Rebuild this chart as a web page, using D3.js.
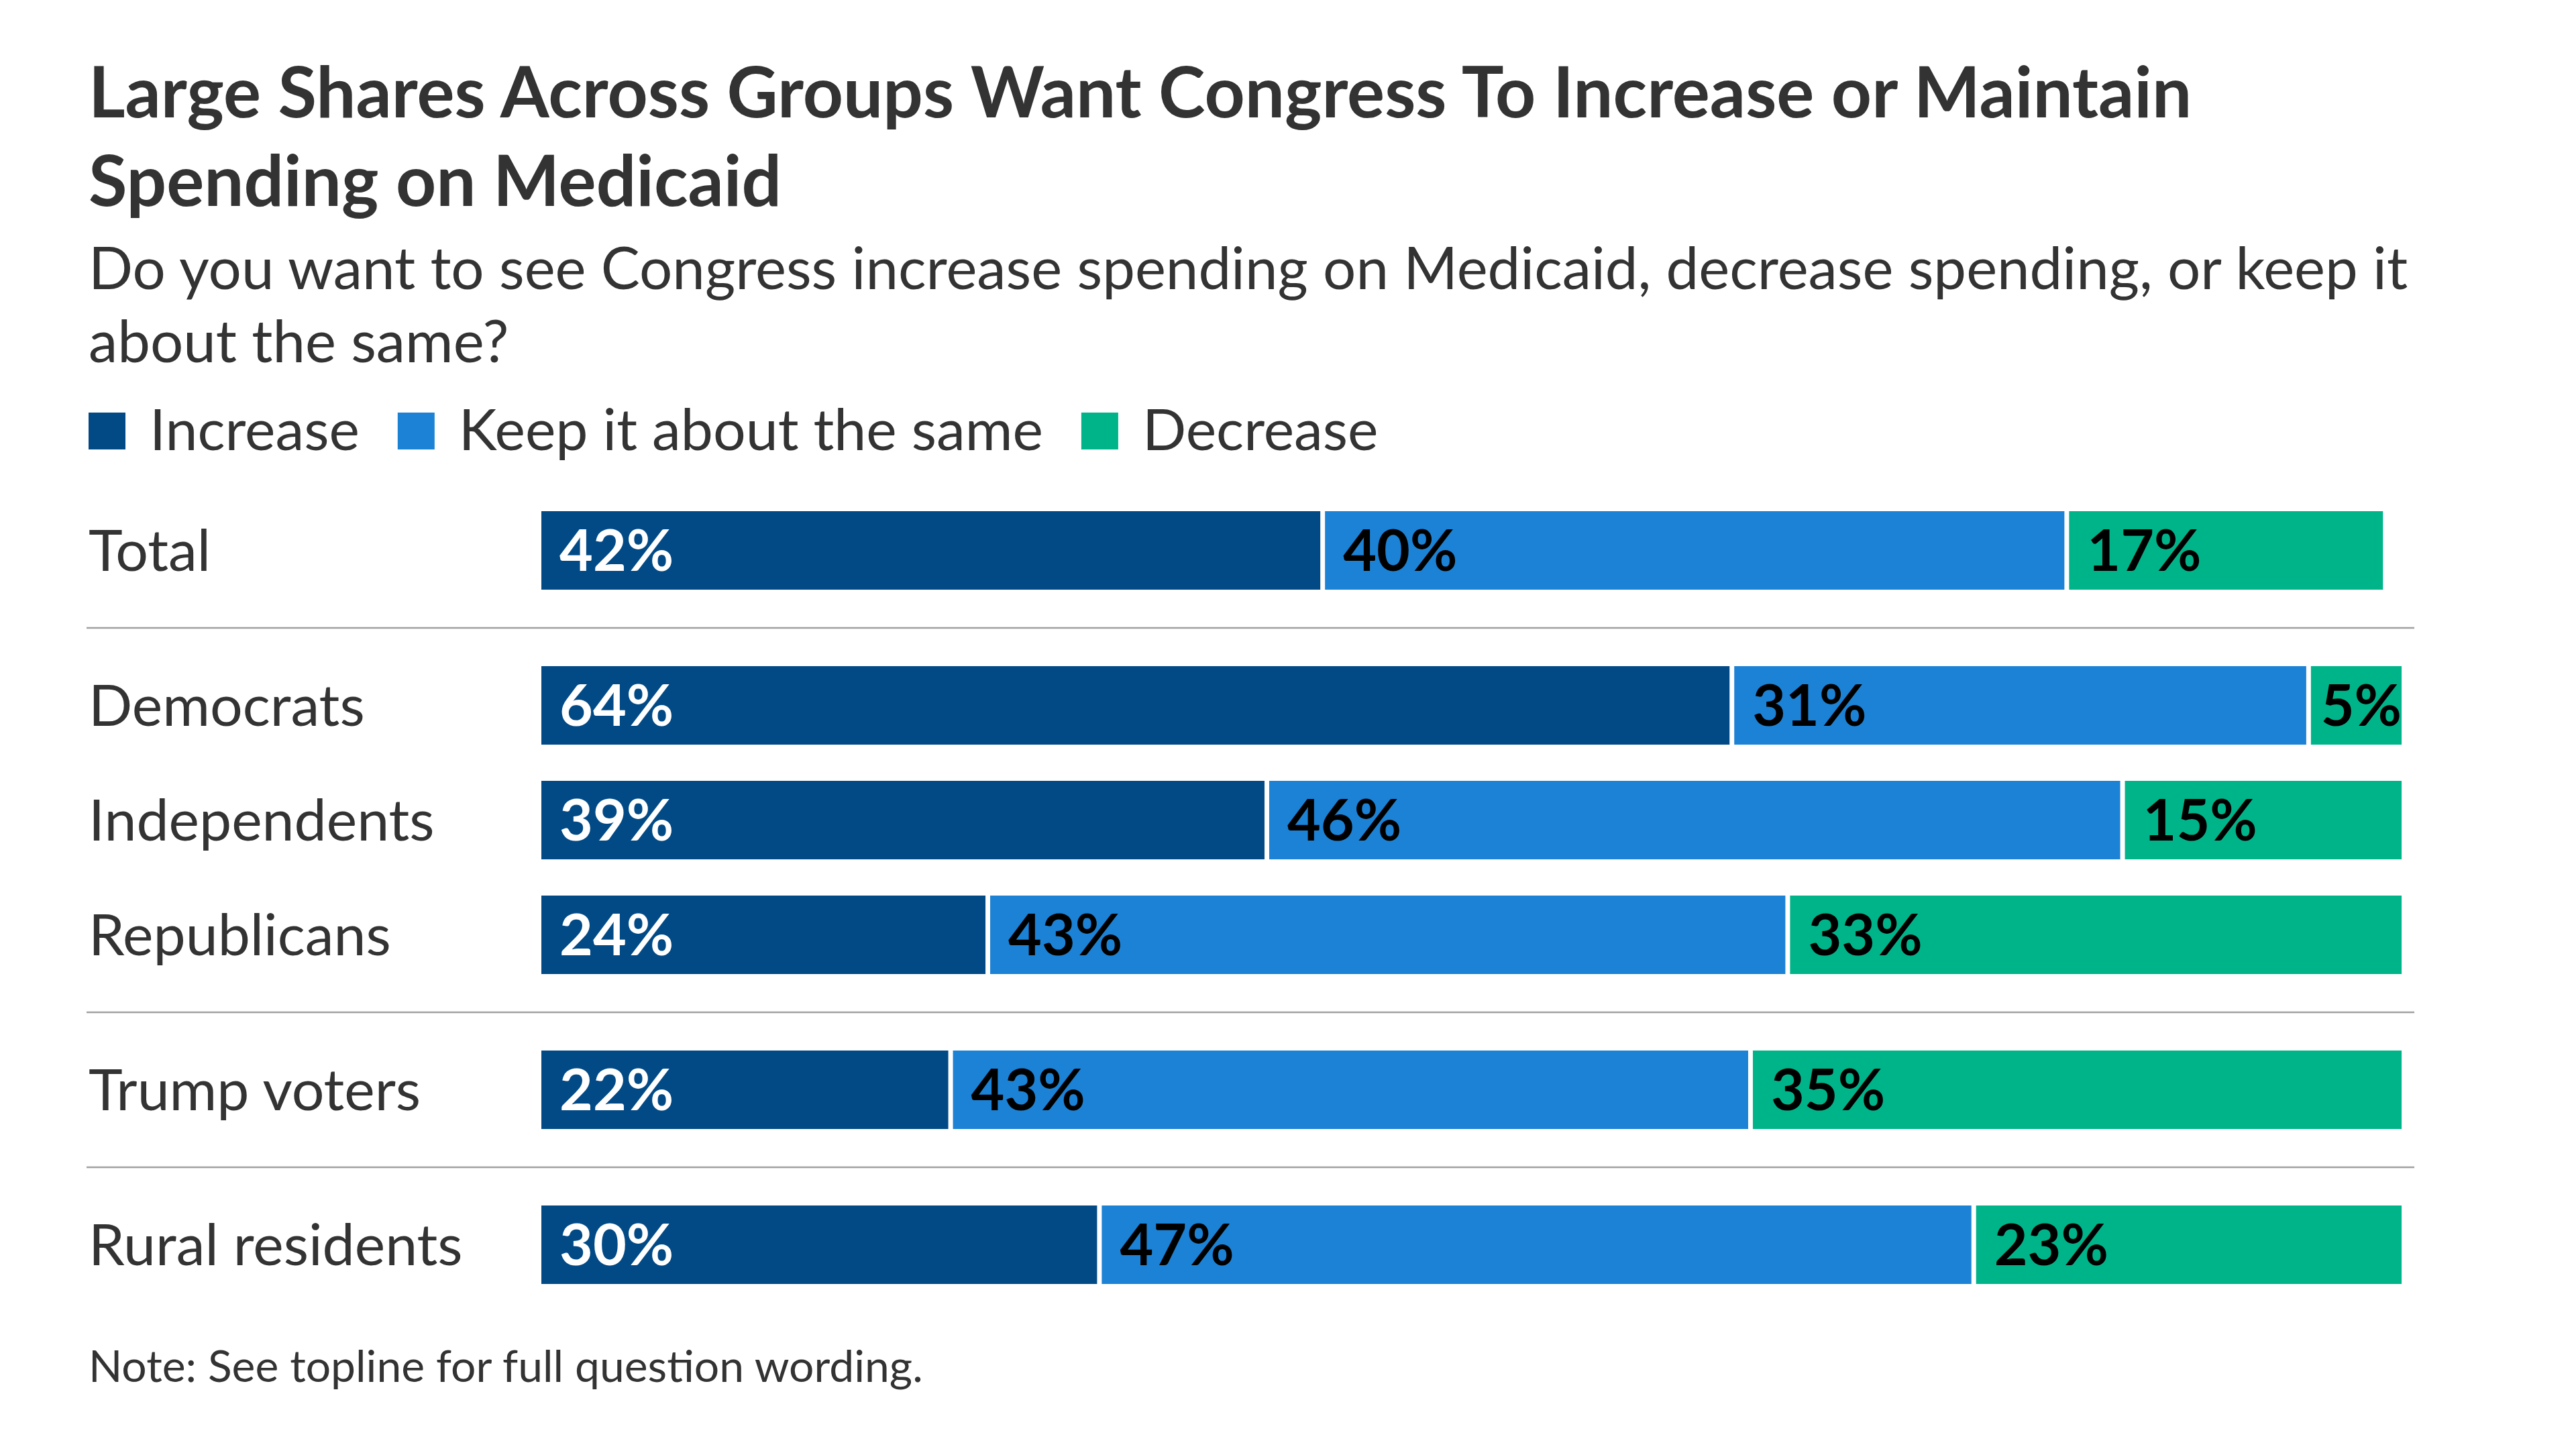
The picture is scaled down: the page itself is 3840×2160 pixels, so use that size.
<!DOCTYPE html>
<html>
<head>
<meta charset="utf-8">
<script src="https://cdn.jsdelivr.net/npm/d3@7"></script>
<style>
  html, body { margin: 0; padding: 0; background: #ffffff; }
  svg { display: block; }
  text { font-family: Lato, "Noto Sans", sans-serif; }
</style>
</head>
<body>
<svg id="chart" width="3840" height="2160"></svg>
<script>
// ---- data ----
const titleLines = ["Large Shares Across Groups Want Congress To Increase or Maintain", "Spending on Medicaid"];
const subtitleLines = ["Do you want to see Congress increase spending on Medicaid, decrease spending, or keep it", "about the same?"];
const seriesNames = ["Increase", "Keep it about the same", "Decrease"];
const categories = ["Total", "Democrats", "Independents", "Republicans", "Trump voters", "Rural residents"];
const groupIndex = [0, 1, 1, 1, 2, 3];
const increaseValues = [42, 64, 39, 24, 22, 30];
const sameValues = [40, 31, 46, 43, 43, 47];
const decreaseValues = [17, 5, 15, 33, 35, 23];
const noteText = "Note: See topline for full question wording.";

const colors = ["#024a86", "#1c82d5", "#00b48a"];
const labelColors = ["#ffffff", "#000000", "#000000"];

const svg = d3.select("#chart");
const W = 3840, H = 2160;
svg.append("rect").attr("width", W).attr("height", H).attr("fill", "#fff");

const left = 132;
const textColor = "#333333";

// Title
const title = svg.append("text").attr("fill", textColor).attr("font-weight", 700).attr("font-size", 105);
titleLines.forEach((t, i) => title.append("tspan").attr("x", left).attr("y", 175 + i * 132).text(t));

// Subtitle
const sub = svg.append("text").attr("fill", textColor).attr("font-weight", 400).attr("font-size", 87);
subtitleLines.forEach((t, i) => sub.append("tspan").attr("x", left).attr("y", 431 + i * 109).text(t));

// Legend
const legendFont = 86;
let lx = left;
const legend = svg.append("g");
seriesNames.forEach((name, i) => {
  legend.append("rect").attr("x", lx).attr("y", 615).attr("width", 55).attr("height", 55).attr("fill", colors[i]);
  const t = legend.append("text").attr("x", lx + 55 + 36).attr("y", 671)
    .attr("font-size", legendFont).attr("fill", textColor).text(name);
  lx = lx + 55 + 36 + t.node().getComputedTextLength() + 57;
});

// Scales
const x = d3.scaleLinear().domain([0, 100]).range([807, 3580]);
const rowStep = 171, groupGap = 60, barH = 117;
const y = d3.scaleLinear().domain([0, 1]).range([762, 762 + rowStep]);
const rowTop = (i) => y(i) + groupIndex[i] * groupGap;

const rows = categories.map((c, i) => {
  const vals = [increaseValues[i], sameValues[i], decreaseValues[i]];
  let acc = 0;
  const segs = vals.map((v, k) => {
    const s = { k, v, start: acc, end: acc + v };
    acc += v;
    return s;
  });
  return { c, i, segs };
});

// Separators between groups
for (let i = 1; i < categories.length; i++) {
  if (groupIndex[i] !== groupIndex[i - 1]) {
    const ym = (rowTop(i - 1) + barH + rowTop(i)) / 2;
    svg.append("line").attr("x1", 129).attr("x2", 3599).attr("y1", ym).attr("y2", ym)
      .attr("stroke", "#a0a0a0").attr("stroke-width", 2.5);
  }
}

const labelFont = 86;
const gap = 3.5;
rows.forEach(r => {
  const top = rowTop(r.i);
  const cy = top + barH / 2;
  svg.append("text").attr("x", left).attr("y", cy + 0.36 * labelFont)
    .attr("font-size", labelFont).attr("fill", textColor).text(r.c);
  const g = svg.append("g");
  r.segs.forEach((s, k) => {
    const x0 = x(s.start) + (k > 0 ? gap : 0);
    const x1 = x(s.end) - (k < r.segs.length - 1 ? gap : 0);
    g.append("rect").attr("x", x0).attr("y", top).attr("width", Math.max(0, x1 - x0)).attr("height", barH)
      .attr("fill", colors[k]);
    const t = g.append("text").attr("y", cy + 0.36 * labelFont)
      .attr("font-size", labelFont).attr("font-weight", 700).attr("fill", labelColors[k]).text(s.v + "%");
    const tw = t.node().getComputedTextLength();
    t.attr("x", Math.min(x0 + 27, x1 - tw));
  });
});

// Note
svg.append("text").attr("x", left).attr("y", 2060).attr("font-size", 66).attr("fill", textColor).text(noteText);
</script>
</body>
</html>
